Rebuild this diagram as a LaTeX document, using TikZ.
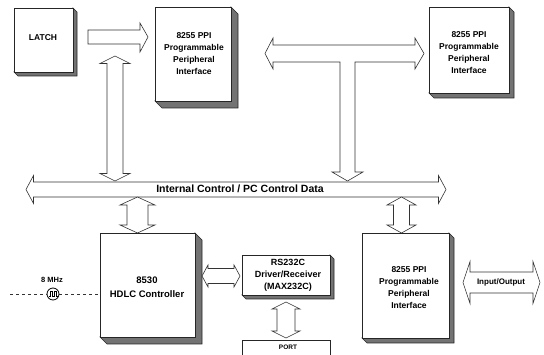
\documentclass[tikz,border=0pt]{standalone}
\usepackage{fontspec}
\setmainfont{Liberation Sans}
\begin{document}
\begin{tikzpicture}[x=1pt,y=-1pt,
  line width=0.6pt,
  boxfront/.style={draw=black!85, fill=white, inner sep=0pt, anchor=north west},
  sidefill/.style={draw=black!85, fill=black!55},
  blockarrow/.style={draw=black!80, fill=white, line join=miter},
  lbl/.style={font=\bfseries\fontsize{8.5}{12}\selectfont, align=center, inner sep=0pt}]
\useasboundingbox (0,0) rectangle (544,355);
% 3D box: name, x, y, width, height, depth
\newcommand\tdbox[6]{%
  \draw[sidefill] ({#2+#4},#3) -- ++(#6,#6) -- ++(0,#5) -- ++({-#4},0) -- ++({-#6},{-#6}) -- ++(#4,0) -- cycle;
  \node[boxfront, minimum width=#4pt, minimum height=#5pt] (#1) at (#2,#3) {};}
% vertical double arrow: cx, ytop, ybot, shaft half, head half, head length
\newcommand\vdarrow[6]{%
  \draw[blockarrow] ({#1-#4},{#2+#6}) -- ({#1-#5},{#2+#6}) -- (#1,#2) -- ({#1+#5},{#2+#6}) -- ({#1+#4},{#2+#6}) -- ({#1+#4},{#3-#6}) -- ({#1+#5},{#3-#6}) -- (#1,#3) -- ({#1-#5},{#3-#6}) -- ({#1-#4},{#3-#6}) -- cycle;}
% horizontal double arrow: cy, xleft, xright, shaft half, head half, head length
\newcommand\hdarrow[6]{%
  \draw[blockarrow] ({#2+#6},{#1-#4}) -- ({#2+#6},{#1-#5}) -- (#2,#1) -- ({#2+#6},{#1+#5}) -- ({#2+#6},{#1+#4}) -- ({#3-#6},{#1+#4}) -- ({#3-#6},{#1+#5}) -- (#3,#1) -- ({#3-#6},{#1-#5}) -- ({#3-#6},{#1-#4}) -- cycle;}

% boxes
\tdbox{latch}{14}{8}{59}{64}{4}
\tdbox{ppiA}{155}{7}{76}{94}{7}
\tdbox{ppiB}{429}{7}{80}{86}{5}
\tdbox{hdlc}{100}{233}{95}{104}{7}
\tdbox{rs}{242}{255}{88}{40}{4}
\tdbox{ppiC}{362}{233}{87}{105}{5}
\node[boxfront, minimum width=88pt, minimum height=22pt] (port) at (242,340) {};

% texts
\node[lbl] (tlatch) at (43,38) {LATCH};
\node[lbl] (tppiA) at (194,54) {8255 PPI\\Programmable\\Peripheral\\Interface};
\node[lbl] (tppiB) at (469,53) {8255 PPI\\Programmable\\Peripheral\\Interface};
\node[lbl] (tppiC) at (409,287.5) {8255 PPI\\Programmable\\Peripheral\\Interface};
\node[lbl, font=\bfseries\fontsize{9.5}{14}\selectfont] (thdlc) at (147,287) {8530\\HDLC Controller};
\node[lbl, font=\bfseries\fontsize{9}{12}\selectfont] (trs) at (288,275) {RS232C\\Driver/Receiver\\(MAX232C)};
\node[lbl, font=\bfseries\fontsize{6.5}{8}\selectfont] (tport) at (288,347.5) {PORT};

% LATCH -> PPI 1
\draw[blockarrow] (88,30) -- (140,30) -- (140,23) -- (148,37) -- (140,52) -- (140,44) -- (88,44) -- cycle;
% left vertical double arrow
\vdarrow{115}{56}{181}{8}{15}{7.5}
% top T-shaped bus
\draw[blockarrow] (265,53.5) -- (273,38) -- (273,45) -- (415,45) -- (415,38) -- (424,53.5) -- (415,69) -- (415,62) -- (355,62) -- (355,172) -- (363,172) -- (347.5,181) -- (332,172) -- (340,172) -- (340,62) -- (273,62) -- (273,69) -- cycle;
% internal bus
\hdarrow{189.5}{26}{446}{7.5}{14}{7.5}
\node[lbl, font=\bfseries\fontsize{10.5}{12}\selectfont, fill=white, inner sep=1pt] (tbus) at (240,189) {Internal Control / PC Control Data};
% bus <-> HDLC
\vdarrow{137.5}{197}{233}{10.5}{17.5}{8}
% HDLC <-> RS232
\hdarrow{276}{202}{240}{7.5}{11}{6}
% bus <-> PPI 3
\vdarrow{401.5}{197}{233}{8}{14.5}{8}
% RS232 <-> PORT
\vdarrow{286}{302}{338}{9}{14}{7}
% Input/Output
\hdarrow{282.5}{463}{540}{10.5}{21}{7}
\node[lbl, font=\bfseries\fontsize{8}{10}\selectfont] (tio) at (501,282.5) {Input/Output};

% clock
\node[lbl, font=\bfseries\fontsize{7.5}{9}\selectfont] (tmhz) at (52,280) {8 MHz};
\node[circle, minimum size=12pt, inner sep=0pt] (clk) at (53,294) {};
\draw[black, line width=0.8pt] (clk.center) circle[radius=6pt];
\draw[line width=0.6pt] (48.5,296.5) -- (50,296.5) -- (50,291.5) -- (52.5,291.5) -- (52.5,296.5) -- (54,296.5) -- (54,291.5) -- (56.5,291.5) -- (56.5,296.5) -- (57.5,296.5);
\coordinate (clkin) at (10,294);
\draw[dashed, black!80] (clkin) -- (clk.west);
\draw[dashed, black!80] (clk.east) -- (hdlc.west |- clk.east);
\end{tikzpicture}
\end{document}
